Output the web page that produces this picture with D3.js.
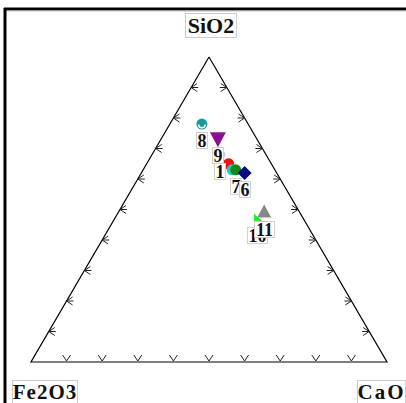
<!DOCTYPE html>
<html><head><meta charset="utf-8">
<script src="https://cdn.jsdelivr.net/npm/d3@7"></script>
<style>html,body{margin:0;padding:0;background:#fff;}svg{display:block;}</style>
</head><body>
<script>
// ---- data ----
const labels = ["1","","","7","6","8","9","10","11"];
const sio2   = [68, 65, 63, 63, 62, 78, 73, 47, 49];
const cao    = [19, 23, 25, 26, 29,  9, 16, 40, 41];
const fe2o3  = [13, 12, 12, 11,  9, 13, 11, 13, 10];
const markers= ["circle","circle","circle","circle","diamond","ring","tridown","flag","triangle"];
const colors = ["#dcb8ec","#ee1111","#1ec8c8","#108a10","#0a0a80","#169a9a","#8a1090","#22ee22","#888888"];
const axisNames = ["SiO2","Fe2O3","CaO"];
const tickFracs = d3.range(1,10).map(d=>d/10);

const W=406,H=403;
const svg=d3.select("body").append("svg").attr("width",W).attr("height",H);
svg.append("rect").attr("width",W).attr("height",H).attr("fill","#fff");
// frame
svg.append("line").attr("x1",4).attr("x2",W).attr("y1",9).attr("y2",9).attr("stroke","#000").attr("stroke-width",3);
svg.append("line").attr("x1",5).attr("x2",5).attr("y1",8).attr("y2",H).attr("stroke","#000").attr("stroke-width",3);
svg.append("line").attr("x1",7).attr("x2",W).attr("y1",11).attr("y2",11).attr("stroke","#bbb").attr("stroke-width",1);

// ternary scales
const A=[209,57], B=[31,362], C=[387,362];
const yScale=d3.scaleLinear().domain([0,100]).range([B[1],A[1]]);
const xScale=d3.scaleLinear().domain([0,100]).range([0,C[0]-B[0]]);
function proj(si,fe,ca){
  const t=si+fe+ca; si=si*100/t; ca=ca*100/t;
  const y=yScale(si);
  const x=B[0]+xScale(si)*((A[0]-B[0])/(C[0]-B[0]))+xScale(ca);
  return [x,y];
}
// triangle
const tri=[proj(100,0,0),proj(0,100,0),proj(0,0,100)];
svg.append("path").attr("d",d3.line()([...tri,tri[0]])).attr("fill","none").attr("stroke","#000").attr("stroke-width",1.2);

// ticks (chevrons)
const g=svg.append("g").attr("stroke","#222").attr("stroke-width",1).attr("fill","none");
tickFracs.forEach(f=>{
  let p=proj(0,100*(1-f),100*f);
  g.append("path").attr("d",`M${p[0]-4},${p[1]-7}L${p[0]},${p[1]-1}L${p[0]+4},${p[1]-7}`);
  p=proj(100*f,100*(1-f),0);
  g.append("path").attr("d",`M${p[0]+6},${p[1]-4}L${p[0]},${p[1]}L${p[0]+6},${p[1]+4}M${p[0]},${p[1]}L${p[0]+7},${p[1]}`);
  p=proj(100*f,0,100*(1-f));
  g.append("path").attr("d",`M${p[0]-6},${p[1]-4}L${p[0]},${p[1]}L${p[0]-6},${p[1]+4}M${p[0]},${p[1]}L${p[0]-7},${p[1]}`);
});

// markers
const pts=labels.map((l,i)=>({l,p:proj(sio2[i],fe2o3[i],cao[i]),m:markers[i],c:colors[i]}));
const drawOrder=[0,5,6,1,2,3,4,7,8];
drawOrder.forEach(i=>{
  const d=pts[i]; const [x,y]=d.p;
  if(d.m==="circle") svg.append("circle").attr("cx",x).attr("cy",y).attr("r",5.5).attr("fill",d.c);
  else if(d.m==="ring"){
    svg.append("circle").attr("cx",x).attr("cy",y).attr("r",5.5).attr("fill",d.c);
    svg.append("path").attr("d",`M${x-4},${y+0.5}A4,4 0 0 0 ${x+4},${y+0.5}L${x+2.5},${y+0.5}A2.5,2.5 0 0 1 ${x-2.5},${y+0.5}Z`).attr("fill","#fff");
  }
  else if(d.m==="diamond") svg.append("path").attr("d",`M${x},${y-7}L${x+7},${y}L${x},${y+7}L${x-7},${y}Z`).attr("fill",d.c);
  else if(d.m==="tridown") svg.append("path").attr("d",`M${x-8},${y-7}L${x+8},${y-7}L${x},${y+8}Z`).attr("fill",d.c);
  else if(d.m==="triangle") svg.append("path").attr("d",`M${x},${y-8}L${x+7},${y+5}L${x-7},${y+5}Z`).attr("fill",d.c);
  else if(d.m==="flag") svg.append("path").attr("d",`M${x-3},${y-5}L${x+5},${y+2}L${x+5},${y+6}L${x-3},${y+6}Z`).attr("fill",d.c);
});

// point labels
const lblOrder=[0,5,6,3,4,7,8];
lblOrder.forEach(i=>{
  const d=pts[i]; if(!d.l) return; const [x,y]=d.p;
  const w=d.l.length*9+2, h=16;
  const gx=svg.append("g").attr("transform",`translate(${Math.round(x-w/2)+0.5},${Math.round(y+8)+0.5})`);
  gx.append("rect").attr("width",w).attr("height",h).attr("fill","#fff").attr("stroke","#d0d0d0").attr("stroke-width",1);
  gx.append("text").attr("x",w/2).attr("y",14).attr("text-anchor","middle")
    .attr("font-family","Liberation Serif, serif").attr("font-weight","bold").attr("font-size",18).attr("fill","#111").text(d.l);
});

// axis names
function boxLabel(txt,x,y,w,h,ls,fs){
  const gg=svg.append("g").attr("transform",`translate(${x},${y})`);
  gg.append("rect").attr("width",w).attr("height",h).attr("fill","#fff").attr("stroke","#ccc").attr("stroke-width",1);
  gg.append("text").attr("x",w/2).attr("y",h-5).attr("text-anchor","middle").attr("letter-spacing",ls)
    .attr("font-family","Liberation Serif, serif").attr("font-weight","bold").attr("font-size",fs).attr("fill","#111").text(txt);
}
boxLabel(axisNames[0],185.5,13.5,51,24,0,22);
boxLabel(axisNames[1],12.5,380.5,65,23,1,21);
boxLabel(axisNames[2],357.5,380.5,48,23,2,21);
</script>
</body></html>
